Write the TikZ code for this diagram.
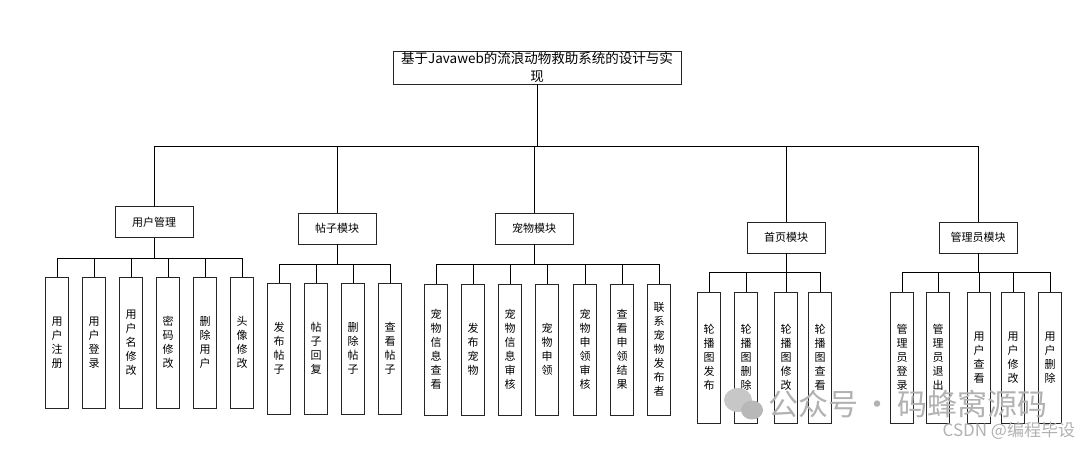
\documentclass[tikz,border=0pt]{standalone}
\usepackage{fontspec}
\newfontfamily\cjk{Noto Sans CJK SC}
\begin{document}
\begin{tikzpicture}[x=1pt,y=-1pt,
  every node/.style={inner sep=0pt, outer sep=0pt},
  conn/.style={draw=black, line width=0.9pt},
  titlebox/.style={draw=black!85, line width=1pt, minimum width=288pt, minimum height=33pt, align=center, font=\cjk\fontsize{13.5}{18}\selectfont},
  grpbox/.style={draw=black!85, line width=1pt, minimum width=78pt, minimum height=31pt, font=\cjk\fontsize{11}{13}\selectfont},
  leafbox/.style={draw=black!85, line width=1pt, minimum width=23pt, minimum height=131pt, anchor=north, align=center, font=\cjk\fontsize{11}{14}\selectfont},
  wm/.style={text=black!30}
]
\useasboundingbox (0,0) rectangle (1080,448);
\fill[white] (0,0) rectangle (1080,448);

% title
\node[titlebox] (title) at (537,67.5) {基于Javaweb的流浪动物救助系统的设计与实\\现};
\coordinate (tb) at (537,146);

% groups
\node[grpbox] (g1) at (154,222) {用户管理};
\node[grpbox] (g2) at (337,228.5) {帖子模块};
\node[grpbox] (g3) at (534,228.5) {宠物模块};
\node[grpbox] (g4) at (786,237.5) {首页模块};
\node[grpbox] (g5) at (978,237.5) {管理员模块};

\draw[conn] (title.south) -- (tb);
\foreach \g in {g1,g2,g3,g4,g5} { \draw[conn] (tb) -| (\g.north); }

% group 1 leaves
\node[leafbox] (a1) at (57,277) {用\\户\\注\\册};
\node[leafbox] (a2) at (94,277) {用\\户\\登\\录};
\node[leafbox] (a3) at (131,277) {用\\户\\名\\修\\改};
\node[leafbox] (a4) at (168,277) {密\\码\\修\\改};
\node[leafbox] (a5) at (205,277) {删\\除\\用\\户};
\node[leafbox] (a6) at (242,277) {头\\像\\修\\改};
\coordinate (b1) at (154,258);
\draw[conn] (g1.south) -- (b1);
\foreach \c in {a1,a2,a3,a4,a5,a6} { \draw[conn] (b1) -| (\c.north); }

% group 2 leaves
\node[leafbox] (p1) at (279,283) {发\\布\\帖\\子};
\node[leafbox] (p2) at (316,283) {帖\\子\\回\\复};
\node[leafbox] (p3) at (353,283) {删\\除\\帖\\子};
\node[leafbox] (p4) at (390,283) {查\\看\\帖\\子};
\coordinate (b2) at (337,264);
\draw[conn] (g2.south) -- (b2);
\foreach \c in {p1,p2,p3,p4} { \draw[conn] (b2) -| (\c.north); }

% group 3 leaves
\node[leafbox] (c1) at (436,284) {宠\\物\\信\\息\\查\\看};
\node[leafbox] (c2) at (473,284) {发\\布\\宠\\物};
\node[leafbox] (c3) at (510,284) {宠\\物\\信\\息\\审\\核};
\node[leafbox] (c4) at (547,284) {宠\\物\\申\\领};
\node[leafbox] (c5) at (585,284) {宠\\物\\申\\领\\审\\核};
\node[leafbox] (c6) at (622,284) {查\\看\\申\\领\\结\\果};
\node[leafbox] (c7) at (659,284) {联\\系\\宠\\物\\发\\布\\者};
\coordinate (b3) at (534,264);
\draw[conn] (g3.south) -- (b3);
\foreach \c in {c1,c2,c3,c4,c5,c6,c7} { \draw[conn] (b3) -| (\c.north); }

% group 4 leaves
\node[leafbox] (h1) at (709,292) {轮\\播\\图\\发\\布};
\node[leafbox] (h2) at (746,292) {轮\\播\\图\\删\\除};
\node[leafbox] (h3) at (786,292) {轮\\播\\图\\修\\改};
\node[leafbox] (h4) at (820,292) {轮\\播\\图\\查\\看};
\coordinate (b4) at (786,272);
\draw[conn] (g4.south) -- (b4);
\foreach \c in {h1,h2,h3,h4} { \draw[conn] (b4) -| (\c.north); }

% group 5 leaves
\node[leafbox] (m1) at (902,292) {管\\理\\员\\登\\录};
\node[leafbox] (m2) at (938,292) {管\\理\\员\\退\\出};
\node[leafbox] (m3) at (979,292) {用\\户\\查\\看};
\node[leafbox] (m4) at (1013,292) {用\\户\\修\\改};
\node[leafbox] (m5) at (1050,292) {用\\户\\删\\除};
\coordinate (b5) at (978,272);
\draw[conn] (g5.south) -- (b5);
\foreach \c in {m1,m2,m3,m4,m5} { \draw[conn] (b5) -| (\c.north); }

% watermark
\fill[black!22] (738,400) ellipse (14pt and 12pt);
\fill[black!28] (752,410) ellipse (11pt and 9.5pt);
\node[wm, font=\cjk\fontsize{30}{32}\selectfont, anchor=west] (wm1) at (768,404) {公众号\,·\,码蜂窝源码};
\node[wm, font=\cjk\fontsize{17}{19}\selectfont, anchor=east] (wm2) at (1075,431) {CSDN @编程毕设};
\end{tikzpicture}
\end{document}
